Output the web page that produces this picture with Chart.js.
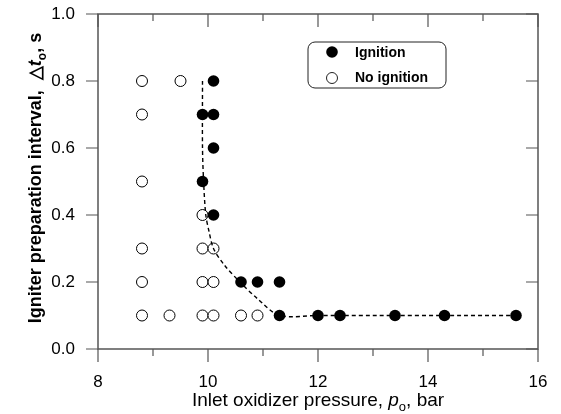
<!DOCTYPE html>
<html>
<head>
<meta charset="utf-8">
<script src="https://cdn.jsdelivr.net/npm/chart.js@4"></script>
<style>
  html, body { margin: 0; padding: 0; background: #fff; }
  #wrap { width: 561px; height: 414px; position: relative; }
</style>
</head>
<body>
<div id="wrap"><canvas id="chart" width="561" height="414"></canvas></div>
<script>
// ignition points (filled)
const ignX = [10.1, 10.1, 9.9, 10.1, 9.9, 10.1, 10.6, 10.9, 11.3, 11.3, 12.0, 12.4, 13.4, 14.3, 15.6];
const ignY = [0.8, 0.7, 0.7, 0.6, 0.5, 0.4, 0.2, 0.2, 0.2, 0.1, 0.1, 0.1, 0.1, 0.1, 0.1];

// no ignition points (open)
const noIgnX = [8.8, 9.5, 8.8, 8.8, 9.9, 8.8, 9.9, 10.1, 8.8, 9.9, 10.1, 8.8, 9.3, 9.9, 10.1, 10.6, 10.9];
const noIgnY = [0.8, 0.8, 0.7, 0.5, 0.4, 0.3, 0.3, 0.3, 0.2, 0.2, 0.2, 0.1, 0.1, 0.1, 0.1, 0.1, 0.1];

// boundary curve (dashed)
const curveX = [9.9, 9.9, 9.92, 9.96, 10.02, 10.1, 10.3, 10.58, 10.9, 11.3, 12.0, 15.6];
const curveY = [0.8, 0.6, 0.5, 0.4, 0.35, 0.3, 0.25, 0.2, 0.15, 0.1, 0.1, 0.1];

const xTicks = [8, 10, 12, 14, 16];
const yTicks = [0.0, 0.2, 0.4, 0.6, 0.8, 1.0];
const legendLabels = ["Ignition", "No ignition"];

const toPts = (xs, ys) => xs.map((x, i) => ({ x: x, y: ys[i] }));

const FONT = "'Liberation Sans', Arial, sans-serif";

// keep the chart area fixed: drop the label overhang padding
function noOverhang(s) {
    s.paddingTop = 0; s.paddingBottom = 0;
    s.paddingLeft = 0; s.paddingRight = 0;
}

const frameAndTicks = {
    id: "frameAndTicks",
    afterDraw(chart) {
        const ctx = chart.ctx;
        const a = chart.chartArea;
        const xs = chart.scales.x, ys = chart.scales.y;
        ctx.save();
        ctx.strokeStyle = "#555";
        ctx.lineWidth = 1.5;
        ctx.strokeRect(a.left, a.top, a.right - a.left, a.bottom - a.top);

        ctx.lineWidth = 1.2;
        ctx.beginPath();
        for (let v = 8; v <= 16; v++) {
            const px = xs.getPixelForValue(v);
            const len = v % 2 === 0 ? 13 : 7;
            ctx.moveTo(px, a.bottom); ctx.lineTo(px, a.bottom + len);
            ctx.moveTo(px, a.top); ctx.lineTo(px, a.top + len);
        }
        yTicks.forEach(v => {
            const py = ys.getPixelForValue(v);
            ctx.moveTo(a.left, py); ctx.lineTo(a.left - 12, py);
            ctx.moveTo(a.right, py); ctx.lineTo(a.right - 12, py);
        });
        ctx.stroke();

        // axis titles
        ctx.fillStyle = "#000";
        ctx.textBaseline = "alphabetic";
        const drawParts = (parts, cx, baseY) => {
            let w = 0;
            parts.forEach(p => { ctx.font = p.font; w += ctx.measureText(p.t).width; });
            let x = cx - w / 2;
            parts.forEach(p => {
                ctx.font = p.font;
                ctx.fillText(p.t, x, baseY + (p.dy || 0));
                x += ctx.measureText(p.t).width;
            });
        };
        drawParts([
            { t: "Inlet oxidizer pressure, ", font: "19px " + FONT },
            { t: "p", font: "italic 19px " + FONT },
            { t: "o", font: "13px " + FONT, dy: 5 },
            { t: ", bar", font: "19px " + FONT }
        ], (a.left + a.right) / 2, 406);

        ctx.save();
        ctx.translate(41, 178);
        ctx.rotate(-Math.PI / 2);
        drawParts([
            { t: "Igniter preparation interval,  \u25B3", font: "bold 18px " + FONT },
            { t: "t", font: "bold italic 18px " + FONT },
            { t: "o", font: "bold 12px " + FONT, dy: 5 },
            { t: ", s", font: "bold 18px " + FONT }
        ], 0, 0);
        ctx.restore();

        // legend box
        ctx.lineWidth = 1;
        ctx.strokeStyle = "#222";
        ctx.beginPath();
        ctx.roundRect(308, 42, 138, 46, 7);
        ctx.stroke();
        ctx.fillStyle = "#000";
        ctx.beginPath();
        ctx.arc(332, 52, 5.8, 0, Math.PI * 2);
        ctx.fill();
        ctx.beginPath();
        ctx.arc(332, 78, 5.5, 0, Math.PI * 2);
        ctx.fillStyle = "#fff";
        ctx.fill();
        ctx.stroke();
        ctx.fillStyle = "#000";
        ctx.font = "bold 14px " + FONT;
        ctx.textBaseline = "middle";
        ctx.fillText(legendLabels[0], 355, 53);
        ctx.fillText(legendLabels[1], 355, 78);
        ctx.restore();
    }
};

new Chart(document.getElementById("chart"), {
    type: "scatter",
    data: {
        datasets: [
            {
                label: "curve",
                data: toPts(curveX, curveY),
                showLine: true,
                borderColor: "#000",
                borderWidth: 1.4,
                borderDash: [4, 3],
                pointRadius: 0,
                tension: 0.3,
                fill: false
            },
            {
                label: legendLabels[1],
                data: toPts(noIgnX, noIgnY),
                pointRadius: 5.5,
                pointBackgroundColor: "#fff",
                pointBorderColor: "#000",
                pointBorderWidth: 1,
                showLine: false
            },
            {
                label: legendLabels[0],
                data: toPts(ignX, ignY),
                pointRadius: 5.8,
                pointBackgroundColor: "#000",
                pointBorderColor: "#000",
                pointBorderWidth: 0,
                showLine: false
            }
        ]
    },
    options: {
        responsive: false,
        animation: false,
        clip: false,
        layout: { padding: { top: 14, right: 23, left: 0, bottom: 0 } },
        plugins: { legend: { display: false }, tooltip: { enabled: false } },
        scales: {
            x: {
                type: "linear",
                min: 8, max: 16,
                grid: { display: false },
                border: { display: false },
                afterBuildTicks: (s) => { s.ticks = xTicks.map(v => ({ value: v })); },
                afterFit: (s) => { s.height = 65; noOverhang(s); },
                ticks: {
                    padding: 15,
                    maxRotation: 0,
                    color: "#000",
                    font: { family: FONT, size: 17 },
                    callback: (v) => String(v)
                }
            },
            y: {
                type: "linear",
                min: 0, max: 1,
                grid: { display: false },
                border: { display: false },
                afterBuildTicks: (s) => { s.ticks = yTicks.map(v => ({ value: v })); },
                afterFit: (s) => { s.width = 98; noOverhang(s); },
                ticks: {
                    padding: 15,
                    color: "#000",
                    font: { family: FONT, size: 17 },
                    callback: (v) => Number(v).toFixed(1)
                }
            }
        }
    },
    plugins: [frameAndTicks]
});
</script>
</body>
</html>
